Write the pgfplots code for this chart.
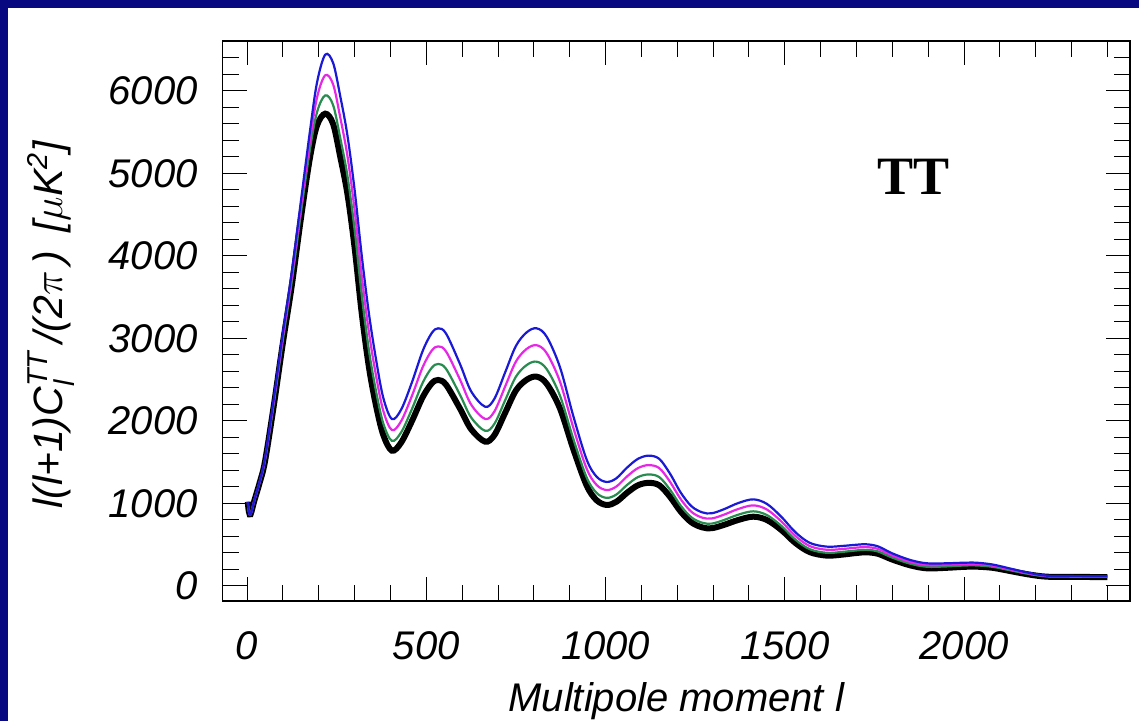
\documentclass[border=0pt]{standalone}
\usepackage{amsmath}
\usepackage{fontspec}
\setmainfont{Liberation Sans}
\newfontfamily\timesfont{Liberation Serif}
\usepackage{pgfplots}
\usepackage{pgfplotstable}
\pgfplotsset{compat=1.18}
\definecolor{navybg}{RGB}{8,8,128}
\definecolor{cblue}{RGB}{25,25,215}
\definecolor{cmag}{RGB}{230,40,230}
\definecolor{cgreen}{RGB}{40,140,80}

\pgfplotstableread{
l K G M B
2 1020 1020 1020 1020
5 900 900 900 900
10 870 870 870 870
20 1030 1032 1033 1035
35 1250 1255 1260 1265
50 1510 1521 1533 1545
75 2200 2225 2252 2280
100 2950 2987 3028 3070
125 3650 3700 3754 3810
150 4450 4515 4587 4660
175 5180 5279 5388 5500
195 5580 5741 5918 6100
218 5725 5947 6190 6440
240 5600 5829 6081 6340
260 5200 5428 5678 5935
280 4750 4970 5212 5460
300 4100 4317 4555 4800
320 3300 3517 3755 4000
340 2650 2852 3073 3300
360 2180 2354 2544 2740
380 1830 1970 2123 2280
404 1640 1759 1890 2024
430 1740 1864 2000 2140
460 2000 2146 2306 2470
490 2290 2464 2654 2850
515 2455 2644 2852 3065
533 2497 2691 2904 3123
555 2440 2632 2843 3060
594 2150 2317 2501 2690
625 1900 2043 2199 2360
664 1750 1881 2025 2173
690 1830 1966 2116 2270
720 2100 2252 2419 2590
750 2370 2537 2721 2910
780 2500 2678 2874 3075
808 2537 2719 2918 3123
836 2450 2627 2821 3020
873 2150 2305 2475 2650
910 1660 1784 1920 2060
947 1220 1318 1425 1535
975 1040 1128 1225 1325
1003 982 1068 1163 1261
1030 1020 1108 1205 1305
1060 1130 1225 1328 1435
1090 1220 1319 1428 1540
1120 1250 1352 1465 1580
1150 1220 1319 1428 1540
1180 1080 1167 1262 1360
1210 900 971 1050 1130
1240 770 830 897 965
1270 710 766 828 892
1296 700 756 818 881
1330 740 799 864 930
1370 800 864 933 1005
1412 840 905 977 1050
1450 800 860 927 995
1490 680 730 784 840
1530 520 560 605 650
1570 410 445 483 522
1617 368 402 439 477
1660 380 413 448 485
1700 400 431 465 500
1728 408 438 471 505
1760 390 418 449 480
1800 320 343 369 395
1850 250 270 292 315
1896 214 233 254 275
1950 220 237 256 275
2000 232 248 265 282
2035 234 249 265 282
2080 220 232 246 260
2130 180 189 200 210
2180 140 146 153 160
2230 113 117 121 125
2300 110 113 117 120
2400 108 111 115 118
}\cmbdata

\begin{document}
\begin{tikzpicture}
\useasboundingbox (0,0) rectangle (569.5pt,360.5pt);
\fill[navybg] (0,0) rectangle (569.5pt,360.5pt);
\fill[white] (4pt,0) rectangle (569.5pt,356.5pt);
\begin{axis}[
  at={(111.35pt,60pt)}, anchor=south west,
  scale only axis, width=453.65pt, height=280pt,
  xmin=-68, xmax=2463, ymin=-182, ymax=6606,
  xtick={0,500,...,2000}, minor xtick={100,200,...,2400},
  ytick={0,1000,...,6000}, minor ytick={200,400,...,6600},
  tick align=inside, major tick length=12pt, minor tick length=8pt,
  axis line style={line width=0.6pt},
  every tick/.style={black, line width=0.5pt},
  tick label style={font=\fontsize{20}{24}\selectfont\itshape},
  /pgf/number format/assume math mode=true,
  /pgf/number format/1000 sep={},
  yticklabel style={xshift=-9pt},
  xticklabel style={yshift=-12pt},
  xlabel={Multipole moment l},
  xlabel style={font=\fontsize{20}{24}\selectfont\itshape, at={(axis description cs:0.5,-0.198)}, anchor=base},
  ylabel={l(l+1)C$_{\text{\itshape l}}^{\text{\itshape TT}}$\,/(2$\pi$\,)\, [$\mu$K\textsuperscript{2}]},
  ylabel style={font=\fontsize{20.5}{24}\selectfont\itshape, at={(axis description cs:-0.177,0.493)}, anchor=base},
  no markers,
]
\addplot[black, line width=3pt, smooth, tension=0.55] table[x=l,y=K]{\cmbdata};
\addplot[cgreen, line width=1.1pt, smooth, tension=0.55] table[x=l,y=G]{\cmbdata};
\addplot[cmag, line width=1.1pt, smooth, tension=0.55] table[x=l,y=M]{\cmbdata};
\addplot[cblue, line width=1.1pt, smooth, tension=0.55] table[x=l,y=B]{\cmbdata};
\node[font=\timesfont\bfseries\fontsize{27}{30}\selectfont, anchor=center] at (axis cs:1858,4964) {TT};
\end{axis}
\end{tikzpicture}
\end{document}
